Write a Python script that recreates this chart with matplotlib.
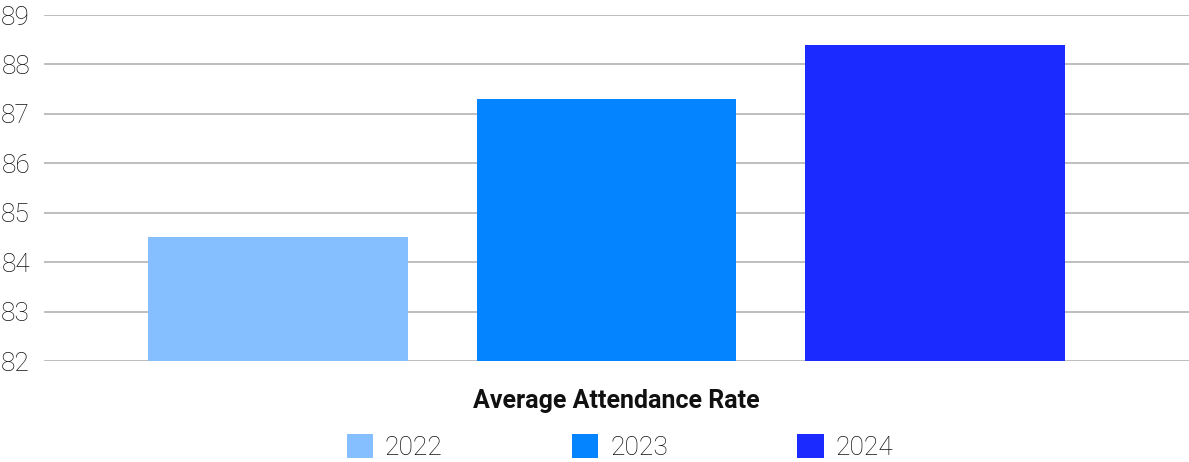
import matplotlib.pyplot as plt

# data
series = ['2022', '2023', '2024']
values = [84.5, 87.3, 88.4]
colors = ['#85BFFF', '#0485FF', '#1B2AFF']
category = 'Average Attendance Rate'
yticks = [82, 83, 84, 85, 86, 87, 88, 89]

W, H = 1189, 462
fig = plt.figure(figsize=(W / 100, H / 100), dpi=100)
ax = fig.add_axes([44 / W, 101 / H, 1 - 44 / W, (361 - 15) / H])

bars = []
for i, (s, v, c) in enumerate(zip(series, values, colors)):
    b = ax.bar(i, v - yticks[0], bottom=yticks[0], width=0.79, color=c, label=s, zorder=2)
    bars.append(b)

ax.set_ylim(yticks[0], yticks[-1])
ax.set_xlim(-0.712, 2.773)
ax.set_yticks(yticks)
ax.set_yticklabels([str(t) for t in yticks], fontsize=19, family='Roboto', weight='light', color='#111111')
ax.set_xticks([])
ax.tick_params(axis='y', length=0, pad=10)
ax.grid(axis='y', color='#b3b3b3', linewidth=1.2, zorder=0)
for sp in ax.spines.values():
    sp.set_visible(False)

fig.text(616 / W, 1 - 401 / H, category, ha='center', va='center',
         fontsize=18, family='Roboto', weight='bold', color='#111111')

fig.legend(handles=[b[0] for b in bars], labels=series, loc='center',
           bbox_to_anchor=(620 / W, 1 - 447 / H), ncol=3, frameon=False,
           handlelength=1.0, handleheight=1.0, handletextpad=0.45,
           columnspacing=4.9, labelcolor='#111111',
           prop={'family': 'Roboto', 'weight': 'light', 'size': 19})

fig.savefig('out.png', dpi=100)
